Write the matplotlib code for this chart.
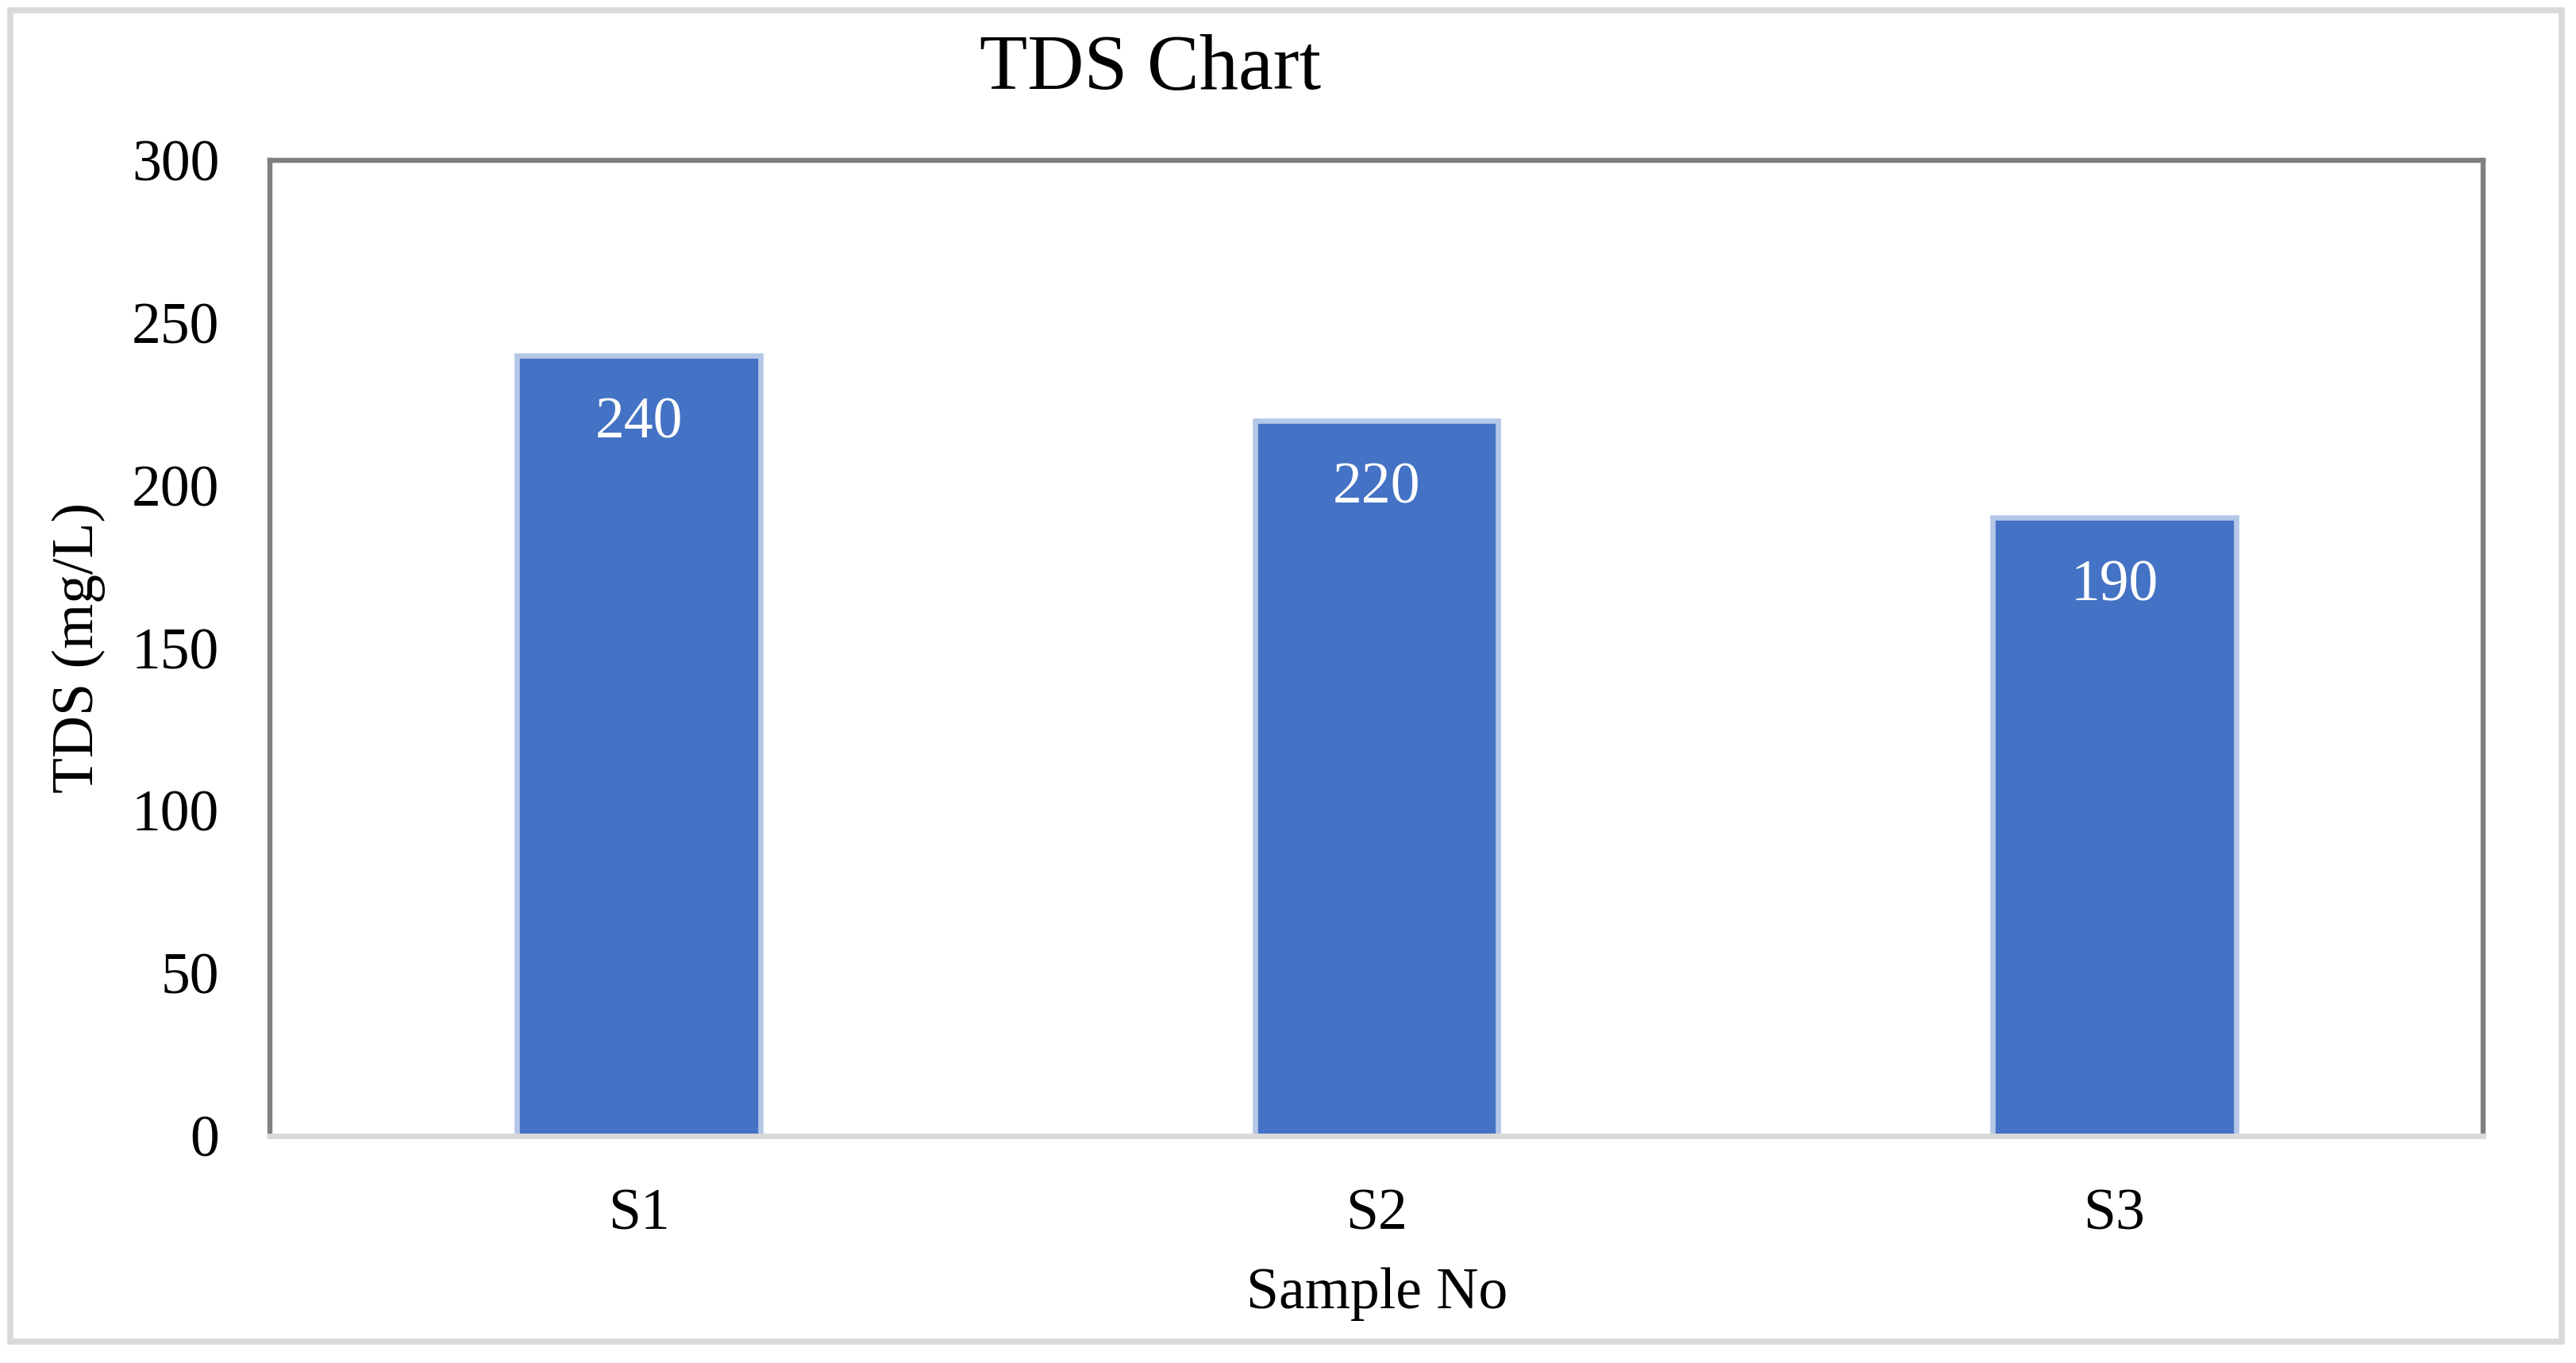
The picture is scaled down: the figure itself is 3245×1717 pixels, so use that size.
import matplotlib.pyplot as plt
from matplotlib.patches import Rectangle

# данні з графіка
samples = ['S1', 'S2', 'S3']
tds = [240, 220, 190]
y_ticks = [0, 50, 100, 150, 200, 250, 300]

plt.rcParams['font.family'] = ['Liberation Serif', 'DejaVu Serif']

fig = plt.figure(figsize=(16.225, 8.585), dpi=200)
ax = fig.add_axes([0.1048, 0.1668, 0.964 - 0.1048, 0.8824 - 0.1668])

# зовнішня рамка
fig.patches.append(Rectangle((0.004, 0.0157), 0.9905, 0.9767, transform=fig.transFigure,
                             fill=False, edgecolor='#D9D9D9', linewidth=2.7))

x = list(range(len(samples)))
bars = ax.bar(x, tds, width=0.33, color='#4472C4', edgecolor='#B4C7E7', linewidth=2.4, zorder=3)

for xi, v in zip(x, tds):
    ax.annotate(str(v), (xi, v), xytext=(0, -31), textcoords='offset points',
                ha='center', va='center', color='white', fontsize=26.5)

ax.set_xlim(-0.5, len(samples) - 0.5)
ax.set_ylim(0, 300)
ax.set_yticks(y_ticks)
ax.set_xticks(x)
ax.set_xticklabels(samples)
ax.tick_params(axis='both', length=0, labelsize=26.5)
ax.tick_params(axis='y', pad=23)
ax.tick_params(axis='x', pad=24)

for side in ['top', 'left', 'right']:
    ax.spines[side].set_color('#808080')
    ax.spines[side].set_linewidth(2.3)
ax.spines['bottom'].set_color('#D9D9D9')
ax.spines['bottom'].set_linewidth(2.5)
ax.spines['bottom'].set_zorder(4)

fig.text(0.0306, 0.5246, 'TDS (mg/L)', rotation=90, ha='center', va='center', fontsize=26.5)
fig.text(0.5347, 0.0506, 'Sample No', ha='center', va='center', fontsize=26.5)
fig.text(0.4464, 0.949, 'TDS Chart', ha='center', va='center', fontsize=35.5)

fig.savefig('out.png', dpi=200)
